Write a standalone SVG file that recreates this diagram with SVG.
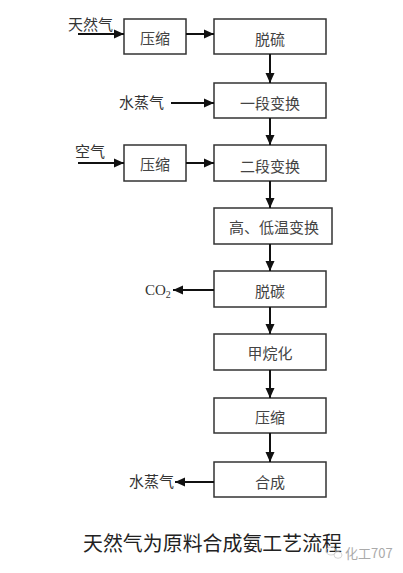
<svg xmlns="http://www.w3.org/2000/svg" width="403" height="573" viewBox="0 0 403 573">
<defs>
<marker id="ah" markerUnits="userSpaceOnUse" markerWidth="10" markerHeight="10" viewBox="0 0 10 10" refX="10" refY="5" orient="auto">
<path d="M0,0.5 L10,5 L0,9.5 Z" fill="#111"/>
</marker>
<style>
.box{fill:#fff;stroke:#333;stroke-width:1.5}
.lbl{font-family:"Noto Sans CJK SC","Liberation Sans",sans-serif;font-size:15px;fill:#444;text-anchor:middle;dominant-baseline:central}
.side{font-family:"Noto Sans CJK SC","Liberation Sans",sans-serif;font-size:15px;fill:#333}
.ln{stroke:#111;stroke-width:2;fill:none;marker-end:url(#ah)}
</style>
</defs>
<rect width="403" height="573" fill="#fff"/>
<g id="n_comp1"><rect class="box" x="124" y="19" width="62" height="35"/><text class="lbl" x="155" y="37">压缩</text></g>
<g id="n_desulf"><rect class="box" x="214" y="19" width="112" height="35"/><text class="lbl" x="270" y="38">脱硫</text></g>
<g id="n_shift1"><rect class="box" x="214" y="83" width="112" height="35"/><text class="lbl" x="270" y="102">一段变换</text></g>
<g id="n_comp2"><rect class="box" x="124" y="145" width="62" height="36"/><text class="lbl" x="155" y="163">压缩</text></g>
<g id="n_shift2"><rect class="box" x="214" y="145" width="112" height="36"/><text class="lbl" x="270" y="165">二段变换</text></g>
<g id="n_hlshift"><rect class="box" x="214" y="208" width="118" height="36"/><text class="lbl" x="274" y="226">高、低温变换</text></g>
<g id="n_decarb"><rect class="box" x="214" y="271" width="112" height="36"/><text class="lbl" x="270" y="290">脱碳</text></g>
<g id="n_meth"><rect class="box" x="214" y="334" width="112" height="36"/><text class="lbl" x="270" y="352">甲烷化</text></g>
<g id="n_comp3"><rect class="box" x="214" y="398" width="112" height="35"/><text class="lbl" x="270" y="416">压缩</text></g>
<g id="n_synth"><rect class="box" x="214" y="462" width="112" height="35"/><text class="lbl" x="270" y="481">合成</text></g>
<g id="side_labels">
<text class="side" x="68" y="30">天然气</text>
<text class="side" x="119" y="108">水蒸气</text>
<text class="side" x="75" y="157">空气</text>
<text class="side" x="145" y="295" font-family="Liberation Serif,serif" style="font-family:'Liberation Serif',serif">CO<tspan font-size="10" dy="3">2</tspan></text>
<text class="side" x="129" y="487">水蒸气</text>
</g>
<g id="connectors">
<line class="ln" x1="78" y1="34" x2="124" y2="34"/>
<line class="ln" x1="186" y1="34" x2="214" y2="34"/>
<line class="ln" x1="270" y1="54" x2="270" y2="83"/>
<line class="ln" x1="171" y1="103" x2="214" y2="103"/>
<line class="ln" x1="270" y1="118" x2="270" y2="145"/>
<line class="ln" x1="78" y1="163" x2="124" y2="163"/>
<line class="ln" x1="186" y1="163" x2="214" y2="163"/>
<line class="ln" x1="270" y1="181" x2="270" y2="208"/>
<line class="ln" x1="270" y1="244" x2="270" y2="271"/>
<line class="ln" x1="214" y1="290" x2="173" y2="290"/>
<line class="ln" x1="270" y1="307" x2="270" y2="334"/>
<line class="ln" x1="270" y1="370" x2="270" y2="398"/>
<line class="ln" x1="270" y1="433" x2="270" y2="462"/>
<line class="ln" x1="214" y1="482" x2="175" y2="482"/>
</g>
<g id="title">
<text x="83" y="551" font-family="Noto Sans CJK SC,sans-serif" style="font-family:'Noto Sans CJK SC',sans-serif" font-size="19.9" fill="#222" textLength="259">天然气为原料合成氨工艺流程</text>
</g>
<g id="watermark">
<ellipse cx="331" cy="551" rx="5" ry="4" fill="none" stroke="#ccc" stroke-width="0.8"/>
<ellipse cx="338" cy="555" rx="4" ry="3.3" fill="none" stroke="#ccc" stroke-width="0.8"/>
<text x="345" y="558" font-family="Noto Sans CJK SC,sans-serif" style="font-family:'Noto Sans CJK SC',sans-serif" font-size="13" fill="#aaa">化工707</text>
</g>
</svg>
